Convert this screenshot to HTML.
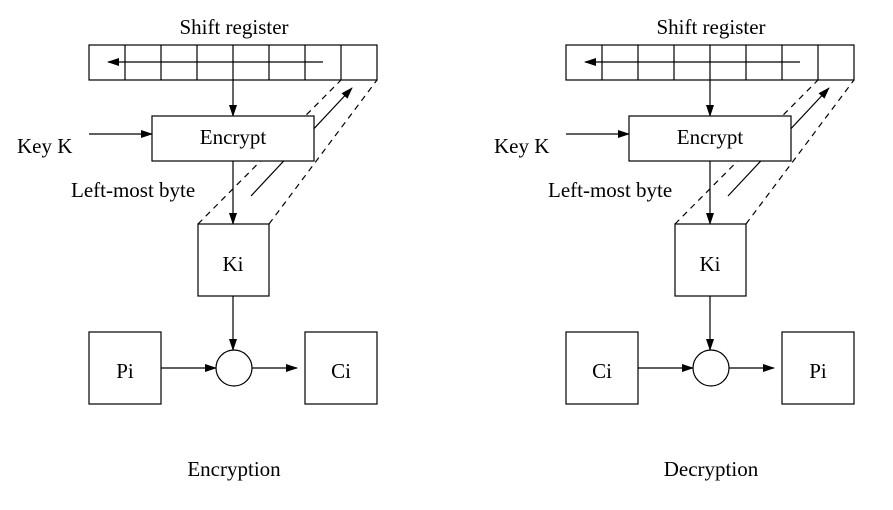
<!DOCTYPE html>
<html><head><style>body{margin:0;background:#fff}svg{display:block}text{font-family:"Liberation Serif",serif;font-size:21px;fill:#000}</style></head>
<body>
<svg width="893" height="510" viewBox="0 0 893 510" xmlns="http://www.w3.org/2000/svg">
<defs>
<marker id="a" markerWidth="12" markerHeight="8" refX="11" refY="4" orient="auto" markerUnits="userSpaceOnUse"><path d="M0,0 L12,4 L0,8 Z" fill="#000"/></marker>
<g id="d" stroke="#000" stroke-width="1.2" fill="none">
<line x1="198" y1="224" x2="341" y2="80" stroke-dasharray="6,5"/>
<line x1="269" y1="224" x2="377" y2="80" stroke-dasharray="6,5"/>
<line x1="251" y1="196" x2="352" y2="88" marker-end="url(#a)"/>
<rect x="89" y="45" width="288" height="35" fill="#fff"/>
<path d="M125,45V80M161,45V80M197,45V80M233,45V80M269,45V80M305,45V80M341,45V80"/>
<line x1="323" y1="62" x2="108" y2="62" marker-end="url(#a)"/>
<line x1="233" y1="80" x2="233" y2="116" marker-end="url(#a)"/>
<line x1="89" y1="134" x2="152" y2="134" marker-end="url(#a)"/>
<rect x="152" y="116" width="162" height="45" fill="#fff"/>
<line x1="233" y1="161" x2="233" y2="224" marker-end="url(#a)"/>
<rect x="198" y="224" width="71" height="72" fill="#fff"/>
<line x1="233" y1="296" x2="233" y2="350" marker-end="url(#a)"/>
<circle cx="234" cy="368" r="18"/>
<rect x="89" y="332" width="72" height="72"/>
<rect x="305" y="332" width="72" height="72"/>
<line x1="161" y1="368" x2="216" y2="368" marker-end="url(#a)"/>
<line x1="252" y1="368" x2="297" y2="368" marker-end="url(#a)"/>
</g>
</defs>
<use href="#d"/>
<use href="#d" transform="translate(477,0)"/>
<text x="234" y="34" text-anchor="middle">Shift register</text>
<text x="17" y="153">Key K</text>
<text x="233" y="144" text-anchor="middle">Encrypt</text>
<text x="71" y="197">Left-most byte</text>
<text x="233" y="271" text-anchor="middle">Ki</text>
<text x="125" y="378" text-anchor="middle">Pi</text>
<text x="341" y="378" text-anchor="middle">Ci</text>
<text x="234" y="476" text-anchor="middle">Encryption</text>
<text x="711" y="34" text-anchor="middle">Shift register</text>
<text x="494" y="153">Key K</text>
<text x="710" y="144" text-anchor="middle">Encrypt</text>
<text x="548" y="197">Left-most byte</text>
<text x="710" y="271" text-anchor="middle">Ki</text>
<text x="602" y="378" text-anchor="middle">Ci</text>
<text x="818" y="378" text-anchor="middle">Pi</text>
<text x="711" y="476" text-anchor="middle">Decryption</text>
</svg>
</body></html>
